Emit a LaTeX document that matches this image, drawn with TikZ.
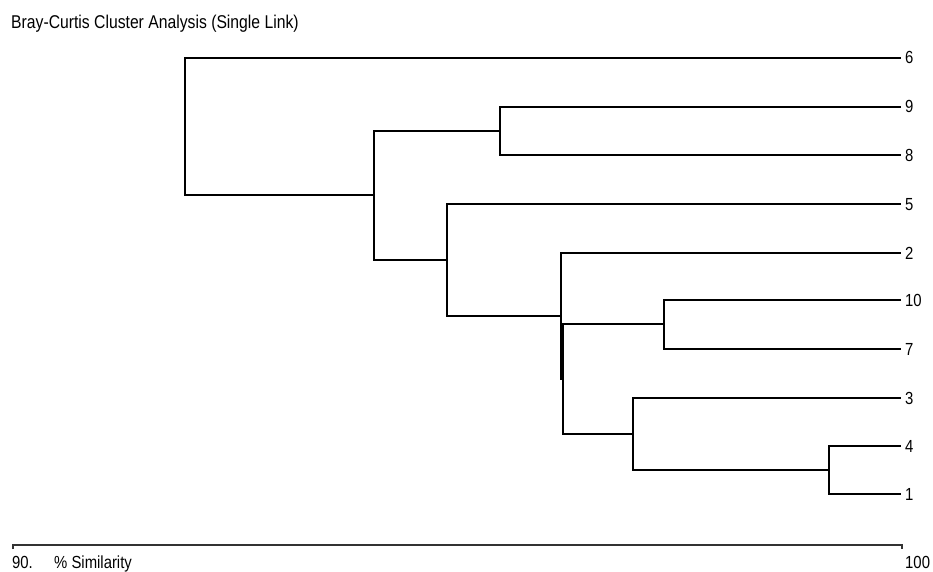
\documentclass[tikz,border=0pt]{standalone}
\usepackage{fontspec}
\newfontfamily\narrowfont[FakeStretch=0.85]{Liberation Sans}
\begin{document}
\begin{tikzpicture}[x=1pt,y=-1pt,
  branch/.style={line width=2.7pt, line join=miter, line cap=rect},
  axisline/.style={line width=1.4pt, draw=black!80},
  leaflabel/.style={anchor=base west, inner sep=0pt, font=\narrowfont\fontsize{17.5}{19}\selectfont},
  txt/.style={anchor=base west, inner sep=0pt, font=\narrowfont\fontsize{17.5}{19}\selectfont}]
\useasboundingbox (0,0) rectangle (933,572);
\fill[white] (0,0) rectangle (933,572);
% title
\node[txt, font=\narrowfont\fontsize{18.5}{20}\selectfont] (title) at (11,29) {Bray-Curtis Cluster Analysis (Single Link)};
% leaf ends
\coordinate (L6) at (900,58);
\coordinate (L9) at (900,107);
\coordinate (L8) at (900,155);
\coordinate (L5) at (900,204);
\coordinate (L2) at (900,253);
\coordinate (L10) at (900,300);
\coordinate (L7) at (900,349);
\coordinate (L3) at (900,398);
\coordinate (L4) at (900,446);
\coordinate (L1) at (900,494);
% leaf labels
\foreach \n/\y in {6/58,9/107,8/155,5/204,2/253,10/300,7/349,3/398,4/446,1/494}
  \node[leaflabel] (t\n) at (905,\y+6) {\n};
% merge points
\coordinate (m98) at (500,131);
\coordinate (m41) at (829,470);
\coordinate (m341) at (633,434);
\coordinate (m107) at (664,324);
\coordinate (mA) at (563,379);
\coordinate (mB) at (561,316);
\coordinate (mC) at (447,260);
\coordinate (mD) at (374,195);
\coordinate (mE) at (185,126);
% branches
\draw[branch] (L9) -| (m98) |- (L8);
\draw[branch] (L4) -| (m41) |- (L1);
\draw[branch] (L3) -| (m341) |- (m41);
\draw[branch] (L10) -| (m107) |- (L7);
\draw[branch] (m107) -| (mA) |- (m341);
\draw[branch] (L2) -| (mB) |- (mA);
\draw[branch] (L5) -| (mC) |- (mB);
\draw[branch] (m98) -| (mD) |- (mC);
\draw[branch] (L6) -| (mE) |- (mD);
% axis
\coordinate (ax0) at (13,545);
\coordinate (ax1) at (902,545);
\draw[axisline] ([yshift=-4pt]ax0) -- (ax0) -- (ax1) -- ([yshift=-4pt]ax1);
\node[txt] (lo) at (12,568) {90.};
\node[txt] (lab) at (54,568) {\% Similarity};
\node[txt] (hi) at (905,568) {100};
\end{tikzpicture}
\end{document}
